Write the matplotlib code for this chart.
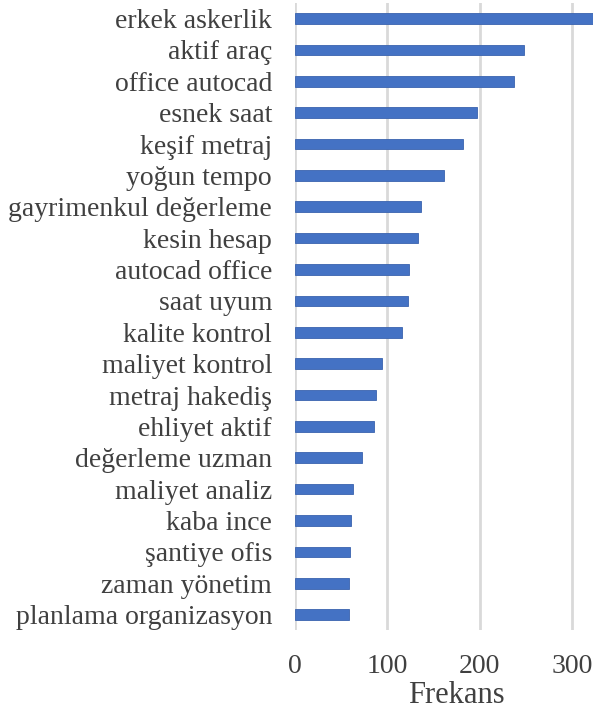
import matplotlib.pyplot as plt

# terms, top to bottom
terms = ["erkek askerlik", "aktif araç", "office autocad", "esnek saat",
         "keşif metraj", "yoğun tempo", "gayrimenkul değerleme", "kesin hesap",
         "autocad office", "saat uyum", "kalite kontrol", "maliyet kontrol",
         "metraj hakediş", "ehliyet aktif", "değerleme uzman", "maliyet analiz",
         "kaba ince", "şantiye ofis", "zaman yönetim", "planlama organizasyon"]
freq = [325, 248, 237, 197, 182, 161, 137, 133, 124, 122,
        116, 94, 88, 86, 73, 63, 61, 60, 58, 58]
xticks = [0, 100, 200, 300]

plt.rcParams['font.family'] = ['Liberation Serif', 'DejaVu Serif']
txt = '#404040'

fig = plt.figure(figsize=(5.93, 7.09), dpi=100)
ax = fig.add_axes([0.4975, 0.111, 0.5025, 0.885])

ypos = list(range(len(terms)))[::-1]
ax.barh(ypos, freq, height=0.34, color='#4472C4', edgecolor='#3A63AE',
        linewidth=0.6, zorder=3)

ax.set_xlim(0, 323)
ax.set_ylim(-0.5, len(terms) - 0.5)
ax.set_xticks(xticks)
ax.set_yticks(ypos)
ax.set_yticklabels(terms, fontsize=20, color=txt)
ax.tick_params(axis='x', labelsize=20, labelcolor=txt, length=0, pad=17)
ax.tick_params(axis='y', length=0, pad=16.5)
ax.grid(axis='x', color='#d9d9d9', linewidth=2, zorder=0)
for s in ax.spines.values():
    s.set_visible(False)

ax.set_xlabel('Frekans', fontsize=22, color=txt, labelpad=1.5)
ax.xaxis.label.set_x(0.54)

fig.savefig('out.png', dpi=100)
